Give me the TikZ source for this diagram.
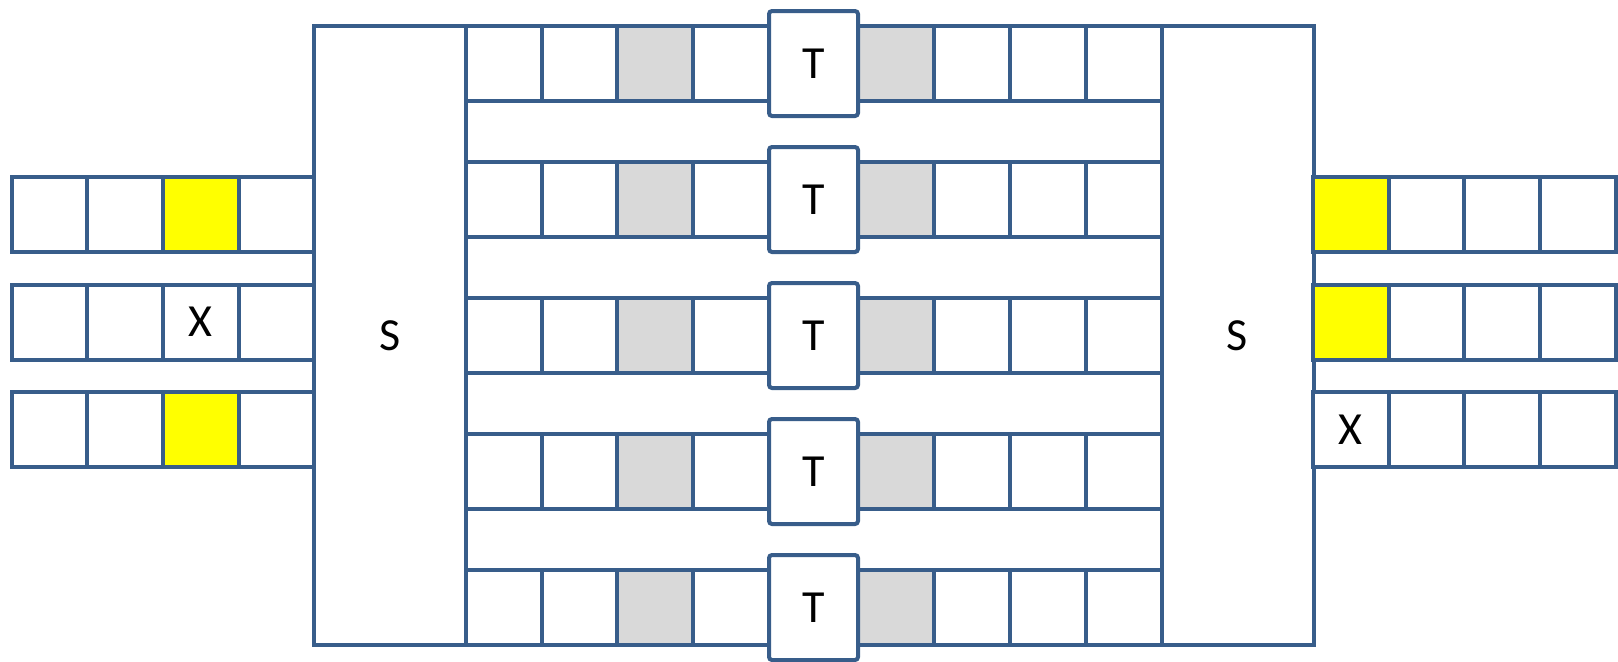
\documentclass[tikz,border=0pt]{standalone}
\usepackage{fontspec}
\setmainfont{Carlito}
\usepackage{xcolor}
\usepackage{tikz}
\definecolor{frameblue}{RGB}{56,93,138}
\definecolor{cellgray}{RGB}{217,217,217}
\definecolor{markyellow}{RGB}{255,255,0}
\tikzset{
  box/.style={draw=frameblue, line width=2pt, fill=white, inner sep=0pt, font=\fontsize{23}{28}\selectfont},
  cell/.style={box, minimum width=37.9pt, minimum height=37.5pt},
  tbox/.style={box, minimum width=44.5pt, minimum height=52.5pt, rounded corners=1.5pt},
  sbox/.style={box, minimum width=76pt, minimum height=309.5pt},
}

\begin{document}
\begin{tikzpicture}[x=0.5pt, y=-0.5pt]
\useasboundingbox (0,0) rectangle (1618,661);
% the two S blocks
\node[sbox] (sl) at (390,335.5) {S};
\node[sbox] (sr) at (1237.5,335.5) {S};
% left stack
\foreach \r/\yy/\f/\t in {1/214.5/markyellow/{}, 2/322/white/X, 3/429.5/markyellow/{}} {
  \foreach \c in {1,2,4}
    \node[cell] (l-\r-\c) at ({12+75.5*(\c-0.5)},\yy) {};
  \node[cell, fill=\f] (l-\r-3) at ({12+75.5*2.5},\yy) {\t};
}
% right stack
\foreach \r/\yy/\f/\t in {1/214.5/markyellow/{}, 2/322/markyellow/{}, 3/429.5/white/X} {
  \node[cell, fill=\f] (r-\r-1) at ({1313+75.75*0.5},\yy) {\t};
  \foreach \c in {2,3,4}
    \node[cell] (r-\r-\c) at ({1313+75.75*(\c-0.5)},\yy) {};
}
% middle rows with T
\foreach \i in {0,...,4} {
  \pgfmathsetmacro\yy{63.5+136*\i}
  \foreach \c/\f in {1/white,2/white,3/cellgray,4/white}
    \node[cell, fill=\f] (m-\i-\c) at ({466+75.75*(\c-0.5)},\yy) {};
  \foreach \c/\f in {5/cellgray,6/white,7/white,8/white}
    \node[cell, fill=\f] (m-\i-\c) at ({858+76*(\c-4.5)},\yy) {};
  \node[tbox] (t-\i) at (813.5,\yy) {T};
}
\end{tikzpicture}
\end{document}
